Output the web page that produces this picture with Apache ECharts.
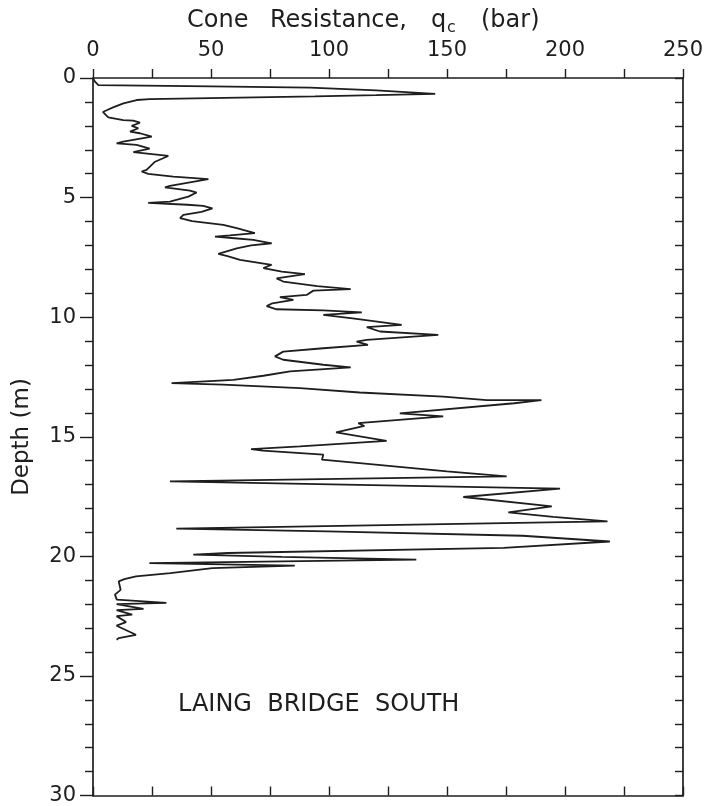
<!DOCTYPE html>
<html>
<head>
<meta charset="utf-8">
<script src="https://cdn.jsdelivr.net/npm/echarts@6/dist/echarts.min.js"></script>
<style>
html,body{margin:0;padding:0;background:#fff;}
#chart{width:708px;height:806px;}
</style>
</head>
<body>
<div id="chart"></div>
<script>
// Cone resistance qc (bar), in order of the trace
const qc = [
  0, 0.8, 2.3, 2.7, 50, 92, 120, 145, 120, 94, 24, 18.5, 12.9, 8.5, 5.8, 4.2, 5.5, 6.5,
  12.8, 17, 19.9, 16.4, 19.2, 15.7, 19.9, 24.9, 12.8, 10, 18.5, 24, 17.1, 31.9,
  26.3, 22.7, 20.6, 23.4, 34, 48.9, 32.6, 30.5, 41.1, 43.9, 40.4, 32.6, 23.4, 40,
  46.7, 50.6, 46, 38.3, 36.9, 42, 55.2, 60.9, 68.6, 58, 51.7, 60, 67.9, 75.7,
  67, 60.9, 53.1, 57, 62.3, 75.7, 72.2, 80, 89.8, 77.8, 80.6, 95, 109.2, 93.4,
  90.5, 79.2, 84.9, 76, 73.6, 77.8, 97.6, 113.9, 97.6, 110, 130.8, 116, 121.6,
  146.3, 116, 111.7, 116.5, 97.6, 80.6, 77.1, 80.6, 97.6, 109.2, 83.5, 72.2,
  59.5, 33.3, 55, 87.7, 113, 148.4, 166.8, 190, 178.5, 130, 148.4, 112.4, 115,
  103, 124.4, 87.7, 67, 72, 97.6, 97, 113, 150, 175.3, 32.6, 197.9, 156.9, 194.4,
  176, 195, 218, 35.3, 99.3, 182, 219, 174, 57.1, 42.5, 80, 137, 23.9, 85.5,
  50.6, 32.8, 18.2, 13.3, 10.9, 11.7, 9.3, 10.1, 31.1, 10, 21.4, 10, 16.6, 10,
  14, 10, 18.2, 10.9, 10
];
// Depth (m), matching qc point by point
const depth = [
  0, 0.15, 0.3, 0.32, 0.35, 0.40, 0.52, 0.66, 0.72, 0.77, 0.88, 0.92, 1.06, 1.23, 1.35, 1.42, 1.55, 1.65,
  1.76, 1.78, 1.87, 2.0, 2.1, 2.24, 2.31, 2.45, 2.66, 2.73, 2.8, 2.95, 3.1, 3.26,
  3.5, 3.84, 3.91, 4.01, 4.12, 4.23, 4.51, 4.57, 4.71, 4.79, 4.96, 5.17, 5.22, 5.3,
  5.35, 5.45, 5.6, 5.72, 5.86, 5.98, 6.14, 6.28, 6.49, 6.58, 6.63, 6.7, 6.77, 6.91,
  7.0, 7.12, 7.35, 7.45, 7.6, 7.81, 7.95, 8.1, 8.2, 8.38, 8.51, 8.7, 8.83, 8.89,
  9.07, 9.16, 9.28, 9.42, 9.54, 9.67, 9.72, 9.8, 9.9, 10.05, 10.32, 10.42, 10.6,
  10.74, 10.95, 11.02, 11.16, 11.3, 11.44, 11.64, 11.78, 11.99, 12.1, 12.27, 12.45,
  12.62, 12.76, 12.82, 12.97, 13.15, 13.32, 13.47, 13.47, 13.6, 14.02, 14.15, 14.43, 14.55,
  14.82, 15.17, 15.4, 15.52, 15.58, 15.75, 15.96, 16.1, 16.45, 16.66, 16.87, 17.17, 17.52, 17.91,
  18.16, 18.35, 18.54, 18.84, 18.96, 19.14, 19.38, 19.65, 19.86, 19.93, 20.02, 20.14, 20.28, 20.39,
  20.49, 20.7, 20.84, 20.95, 21.05, 21.4, 21.6, 21.81, 21.95, 22.0, 22.2, 22.25, 22.44, 22.5,
  22.75, 22.9, 23.28, 23.42, 23.49
];
const xTickLabels = ['0', '50', '100', '150', '200', '250'];
const yTickLabels = ['0', '5', '10', '15', '20', '25', '30'];

const points = qc.map((q, i) => [q, depth[i]]);
const FONT = 'DejaVu Sans';
const INK = '#1e1e1e';

const tickStyle = {color: INK, width: 1.4};
const lineStyleAx = {color: INK, width: 1.7};

const chart = echarts.init(document.getElementById('chart'), null, {renderer: 'canvas'});
chart.setOption({
  animation: false,
  backgroundColor: '#fff',
  grid: {left: 93, right: 25, top: 78, bottom: 10, containLabel: false},
  xAxis: [
    {
      type: 'value', position: 'top', min: 0, max: 250, interval: 25,
      axisLine: {show: true, onZero: false, lineStyle: lineStyleAx},
      axisTick: {show: true, inside: false, length: 9, lineStyle: tickStyle},
      axisLabel: {
        show: true, margin: 17, fontFamily: FONT, fontSize: 21, color: INK,
        formatter: v => (v % 50 === 0 ? xTickLabels[v / 50] : '')
      },
      splitLine: {show: false}
    },
    {
      type: 'value', position: 'bottom', min: 0, max: 250, interval: 25,
      axisLine: {show: true, onZero: false, lineStyle: lineStyleAx},
      axisTick: {show: true, inside: true, length: 9, lineStyle: tickStyle},
      axisLabel: {show: false},
      splitLine: {show: false}
    }
  ],
  yAxis: [
    {
      type: 'value', position: 'left', inverse: true, min: 0, max: 30, interval: 5,
      axisLine: {show: true, onZero: false, lineStyle: lineStyleAx},
      axisTick: {show: true, inside: false, length: 13, lineStyle: tickStyle},
      minorTick: {show: true, splitNumber: 5, length: 8, lineStyle: tickStyle},
      axisLabel: {
        show: true, margin: 17, fontFamily: FONT, fontSize: 21, color: INK,
        formatter: v => yTickLabels[v / 5]
      },
      splitLine: {show: false}
    },
    {
      type: 'value', position: 'right', inverse: true, min: 0, max: 30, interval: 1,
      axisLine: {show: true, onZero: false, lineStyle: lineStyleAx},
      axisTick: {show: true, inside: true, length: 8, lineStyle: tickStyle},
      axisLabel: {show: false},
      splitLine: {show: false}
    }
  ],
  graphic: [
    {type: 'text', left: 187, top: 9, style: {text: 'Cone', fontFamily: FONT, fontSize: 24, fill: INK}},
    {type: 'text', left: 270, top: 9, style: {text: 'Resistance,', fontFamily: FONT, fontSize: 24, fill: INK}},
    {type: 'text', left: 431, top: 9, style: {text: 'q', fontFamily: FONT, fontSize: 24, fill: INK}},
    {type: 'text', left: 447, top: 20, style: {text: 'c', fontFamily: FONT, fontSize: 16, fill: INK}},
    {type: 'text', left: 481, top: 9, style: {text: '(bar)', fontFamily: FONT, fontSize: 24, fill: INK}},
    {
      type: 'text', x: 22, y: 437, rotation: Math.PI / 2,
      style: {
        text: 'Depth (m)', fontFamily: FONT, fontSize: 23, fill: INK,
        align: 'center', verticalAlign: 'middle'
      }
    },
    {
      type: 'text', left: 178, top: 693,
      style: {text: 'LAING  BRIDGE  SOUTH', fontFamily: FONT, fontSize: 24, fill: INK}
    }
  ],
  series: [
    {
      type: 'line',
      xAxisIndex: 0, yAxisIndex: 0,
      data: points,
      showSymbol: false,
      symbol: 'none',
      lineStyle: {color: INK, width: 1.8},
      z: 3
    },
    {
      type: 'line',
      xAxisIndex: 1, yAxisIndex: 1,
      data: [],
      showSymbol: false,
      symbol: 'none',
      silent: true
    }
  ]
});
</script>
</body>
</html>
